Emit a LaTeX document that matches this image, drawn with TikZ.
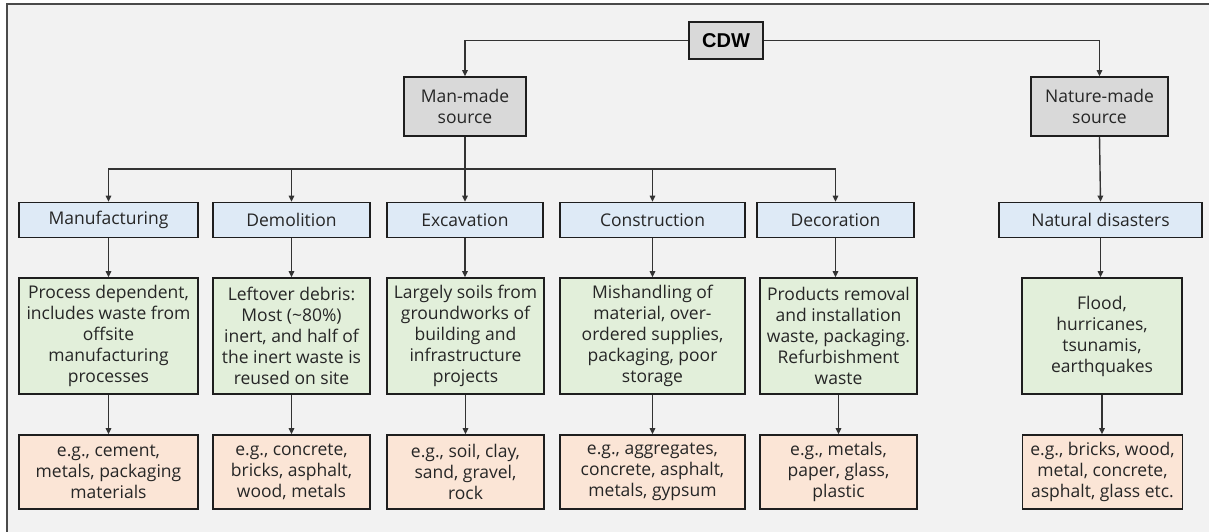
\documentclass[tikz,border=0pt]{standalone}
\usepackage{fontspec}
\setmainfont{Open Sans}
\newfontfamily\titlefont{Liberation Sans}
\usetikzlibrary{arrows.meta}
\definecolor{bgpanel}{HTML}{F2F2F2}
\definecolor{framecol}{HTML}{4A4A4A}
\definecolor{edgecol}{HTML}{1E1E1E}
\definecolor{linkcol}{HTML}{333333}
\definecolor{inkcol}{HTML}{262626}
\definecolor{greyfill}{HTML}{D9D9D9}
\definecolor{bluefill}{HTML}{DEEAF6}
\definecolor{greenfill}{HTML}{E2EFDA}
\definecolor{orangefill}{HTML}{FBE5D6}
\tikzset{
  box/.style={draw=edgecol, line width=1.6pt, inner sep=0pt, align=center,
    text=inkcol, font=\fontsize{17.5}{21}\selectfont},
  rootbox/.style={box, fill=greyfill, font=\titlefont\bfseries\fontsize{20}{24}\selectfont, text=black},
  srcbox/.style={box, fill=greyfill},
  catbox/.style={box, fill=bluefill},
  causebox/.style={box, fill=greenfill},
  matbox/.style={box, fill=orangefill},
  link/.style={draw=linkcol, line width=1.4pt},
  arr/.style={link, -{Triangle[length=6pt,width=5.5pt]}}
}
\begin{document}
\begin{tikzpicture}[x=1pt,y=-1pt]
  % canvas and framed panel (cut off at right and bottom)
  \useasboundingbox (0,0) rectangle (1209,532);
  \fill[white] (0,0) rectangle (1209,532);
  \fill[bgpanel] (7,4) rectangle (1209,532);
  \draw[framecol, line width=1.5pt] (7,532) -- (7,4) -- (1210,4);

  % top levels
  \node[rootbox, minimum width=74pt, minimum height=37pt] (cdw) at (726,40.5) {CDW};
  \node[srcbox, minimum width=122pt, minimum height=59pt] (man) at (465,106.5) {Man-made\\source};
  \node[srcbox, minimum width=137pt, minimum height=59pt] (nat) at (1099.5,106.5) {Nature-made\\source};

  % categories
  \node[catbox, minimum width=179pt, minimum height=35pt] (manu) at (108.5,220) {Manufacturing};
  \node[catbox, minimum width=157pt, minimum height=35pt] (demo) at (291.5,220) {Demolition};
  \node[catbox, minimum width=156pt, minimum height=35pt] (exca) at (465,220) {Excavation};
  \node[catbox, minimum width=185pt, minimum height=35pt] (cons) at (652.5,220) {Construction};
  \node[catbox, minimum width=157pt, minimum height=35pt] (deco) at (835.5,220) {Decoration};
  \node[catbox, minimum width=203pt, minimum height=35pt] (disa) at (1100.5,220) {Natural disasters};

  % causes
  \node[causebox, minimum width=179pt, minimum height=116pt] (manuG) at (108.5,336)
    {Process dependent,\\includes waste from\\offsite\\manufacturing\\processes};
  \node[causebox, minimum width=157pt, minimum height=116pt] (demoG) at (291.5,336)
    {Leftover debris:\\Most (\textasciitilde80\%)\\inert, and half of\\the inert waste is\\reused on site};
  \node[causebox, minimum width=157pt, minimum height=116pt] (excaG) at (465.5,336)
    {Largely soils from\\groundworks of\\building and\\infrastructure\\projects};
  \node[causebox, minimum width=185pt, minimum height=116pt] (consG) at (652.5,336)
    {Mishandling of\\material, over-\\ordered supplies,\\packaging, poor\\storage};
  \node[causebox, minimum width=157pt, minimum height=116pt] (decoG) at (838.5,336)
    {Products removal\\and installation\\waste, packaging.\\Refurbishment\\waste};
  \node[causebox, minimum width=160pt, minimum height=116pt] (disaG) at (1102,336)
    {Flood,\\hurricanes,\\tsunamis,\\earthquakes};

  % materials
  \node[matbox, minimum width=179pt, minimum height=74pt] (manuM) at (108.5,472)
    {e.g., cement,\\metals, packaging\\materials};
  \node[matbox, minimum width=157pt, minimum height=74pt] (demoM) at (291.5,472)
    {e.g., concrete,\\bricks, asphalt,\\wood, metals};
  \node[matbox, minimum width=157pt, minimum height=74pt] (excaM) at (465.5,472)
    {e.g., soil, clay,\\sand, gravel,\\rock};
  \node[matbox, minimum width=185pt, minimum height=74pt] (consM) at (652.5,472)
    {e.g., aggregates,\\concrete, asphalt,\\metals, gypsum};
  \node[matbox, minimum width=157pt, minimum height=74pt] (decoM) at (838.5,472)
    {e.g., metals,\\paper, glass,\\plastic};
  \node[matbox, minimum width=160pt, minimum height=74pt] (disaM) at (1102.5,472)
    {e.g., bricks, wood,\\metal, concrete,\\asphalt, glass etc.};

  % connectors from the root
  \draw[arr] (cdw.west) -| (man.north);
  \draw[arr] (cdw.east) -| (nat.north);

  % distribution bus under the man-made source
  \coordinate (bus) at (465,169);
  \draw[arr] (man.south) -- (exca.north);
  \draw[arr] (bus) -| (manu.north);
  \draw[arr] (bus) -| (demo.north);
  \draw[arr] (bus) -| (cons.north);
  \draw[arr] (bus) -| (deco.north);
  \draw[arr] (nat.south) -- (disa.north);

  % category -> cause -> material
  \foreach \k in {manu,demo,exca,cons,deco,disa}{
    \draw[arr] (\k.south) -- (\k.south |- \k G.north);
    \draw[arr] (\k G.south) -- (\k G.south |- \k M.north);
  }
\end{tikzpicture}
\end{document}
